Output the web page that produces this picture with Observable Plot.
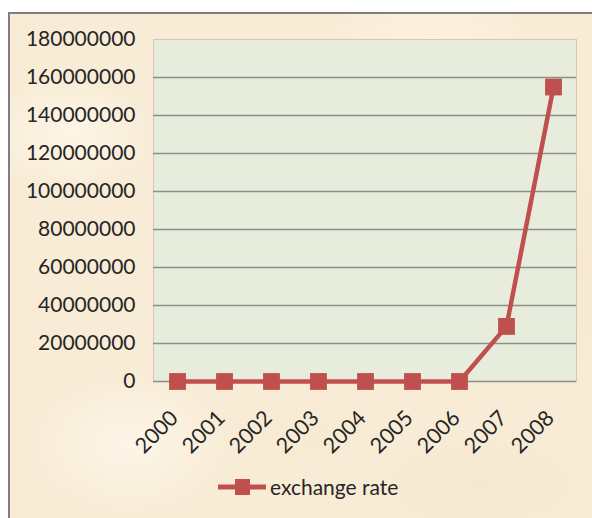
<!DOCTYPE html>
<html>
<head>
<meta charset="utf-8">
<script src="https://cdn.jsdelivr.net/npm/d3@7"></script>
<script src="https://cdn.jsdelivr.net/npm/@observablehq/plot@0.6"></script>
<style>
  html, body { margin: 0; padding: 0; background: #ffffff; width: 592px; height: 518px; overflow: hidden; }
  #frame {
    position: absolute; left: 8px; top: 12px; width: 600px; height: 520px;
    border-left: 2px solid #7f7f7f; border-top: 2px solid #7f7f7f;
    background-color: #f8ecd6;
    background-image:
      radial-gradient(ellipse 120px 80px at 60px 120px, rgba(255,250,238,0.7), rgba(255,250,238,0) 70%),
      radial-gradient(ellipse 160px 90px at 420px 40px, rgba(255,248,232,0.6), rgba(255,248,232,0) 70%),
      radial-gradient(ellipse 140px 100px at 120px 430px, rgba(255,250,240,0.7), rgba(255,250,240,0) 70%),
      radial-gradient(ellipse 200px 90px at 470px 470px, rgba(244,228,200,0.4), rgba(244,228,200,0) 70%),
      radial-gradient(ellipse 90px 160px at 575px 250px, rgba(244,228,200,0.4), rgba(244,228,200,0) 70%),
      radial-gradient(ellipse 120px 60px at 300px 420px, rgba(246,232,206,0.4), rgba(246,232,206,0) 70%);
    font-family: Lato, "Open Sans", sans-serif;
  }
  #legend {
    margin-top: 20px; padding-left: 206px; display: flex; align-items: center;
    font-family: Lato, sans-serif; font-size: 21px; color: #262626;
  }
  #legend svg { margin-right: 2px; }
</style>
</head>
<body>
<div id="frame"><div id="chart"></div><div id="legend"></div></div>
<script>
const years = ["2000","2001","2002","2003","2004","2005","2006","2007","2008"];
const rates = [0, 0, 0, 0, 0, 0, 0, 29000000, 155000000];
const yTicks = [0, 20000000, 40000000, 60000000, 80000000, 100000000, 120000000, 140000000, 160000000, 180000000];
const seriesName = "exchange rate";

const data = years.map((y, i) => ({year: y, rate: rates[i]}));
const red = "#c0504d";

const chart = Plot.plot({
  width: 582,
  height: 440,
  marginLeft: 143,
  marginRight: 16,
  marginTop: 25,
  marginBottom: 73,
  style: {background: "transparent", fontFamily: "Lato, 'Open Sans', sans-serif", fontSize: "21px", color: "#262626", overflow: "visible"},
  x: {type: "point", domain: years, padding: 0.5, label: null},
  y: {domain: [0, 180000000], label: null},
  marks: [
    Plot.frame({fill: "#e7ecdc", stroke: "#dcc3b2", strokeWidth: 1}),
    Plot.gridY(yTicks.filter(t => t < 180000000), {stroke: "#8b9085", strokeOpacity: 1, strokeWidth: 1.5}),
    Plot.axisY(yTicks, {tickSize: 0, tickPadding: 18, tickFormat: d3.format("d"), fontSize: 21}),
    Plot.axisX({tickSize: 0, tickRotate: -45, tickPadding: 0, dx: -3, dy: 33, fontSize: 21.5}),
    Plot.line(data, {x: "year", y: "rate", stroke: red, strokeWidth: 4.5}),
    Plot.dot(data, {x: "year", y: "rate", symbol: "square", r: 9.5, fill: red, stroke: "none"})
  ]
});
document.getElementById("chart").appendChild(chart);

const legend = document.getElementById("legend");
legend.innerHTML = `<svg width="52" height="20"><line x1="2" y1="10" x2="50" y2="10" stroke="${red}" stroke-width="5"/><rect x="19" y="2" width="15" height="16" fill="${red}"/></svg><span>${seriesName}</span>`;
</script>
</body>
</html>
